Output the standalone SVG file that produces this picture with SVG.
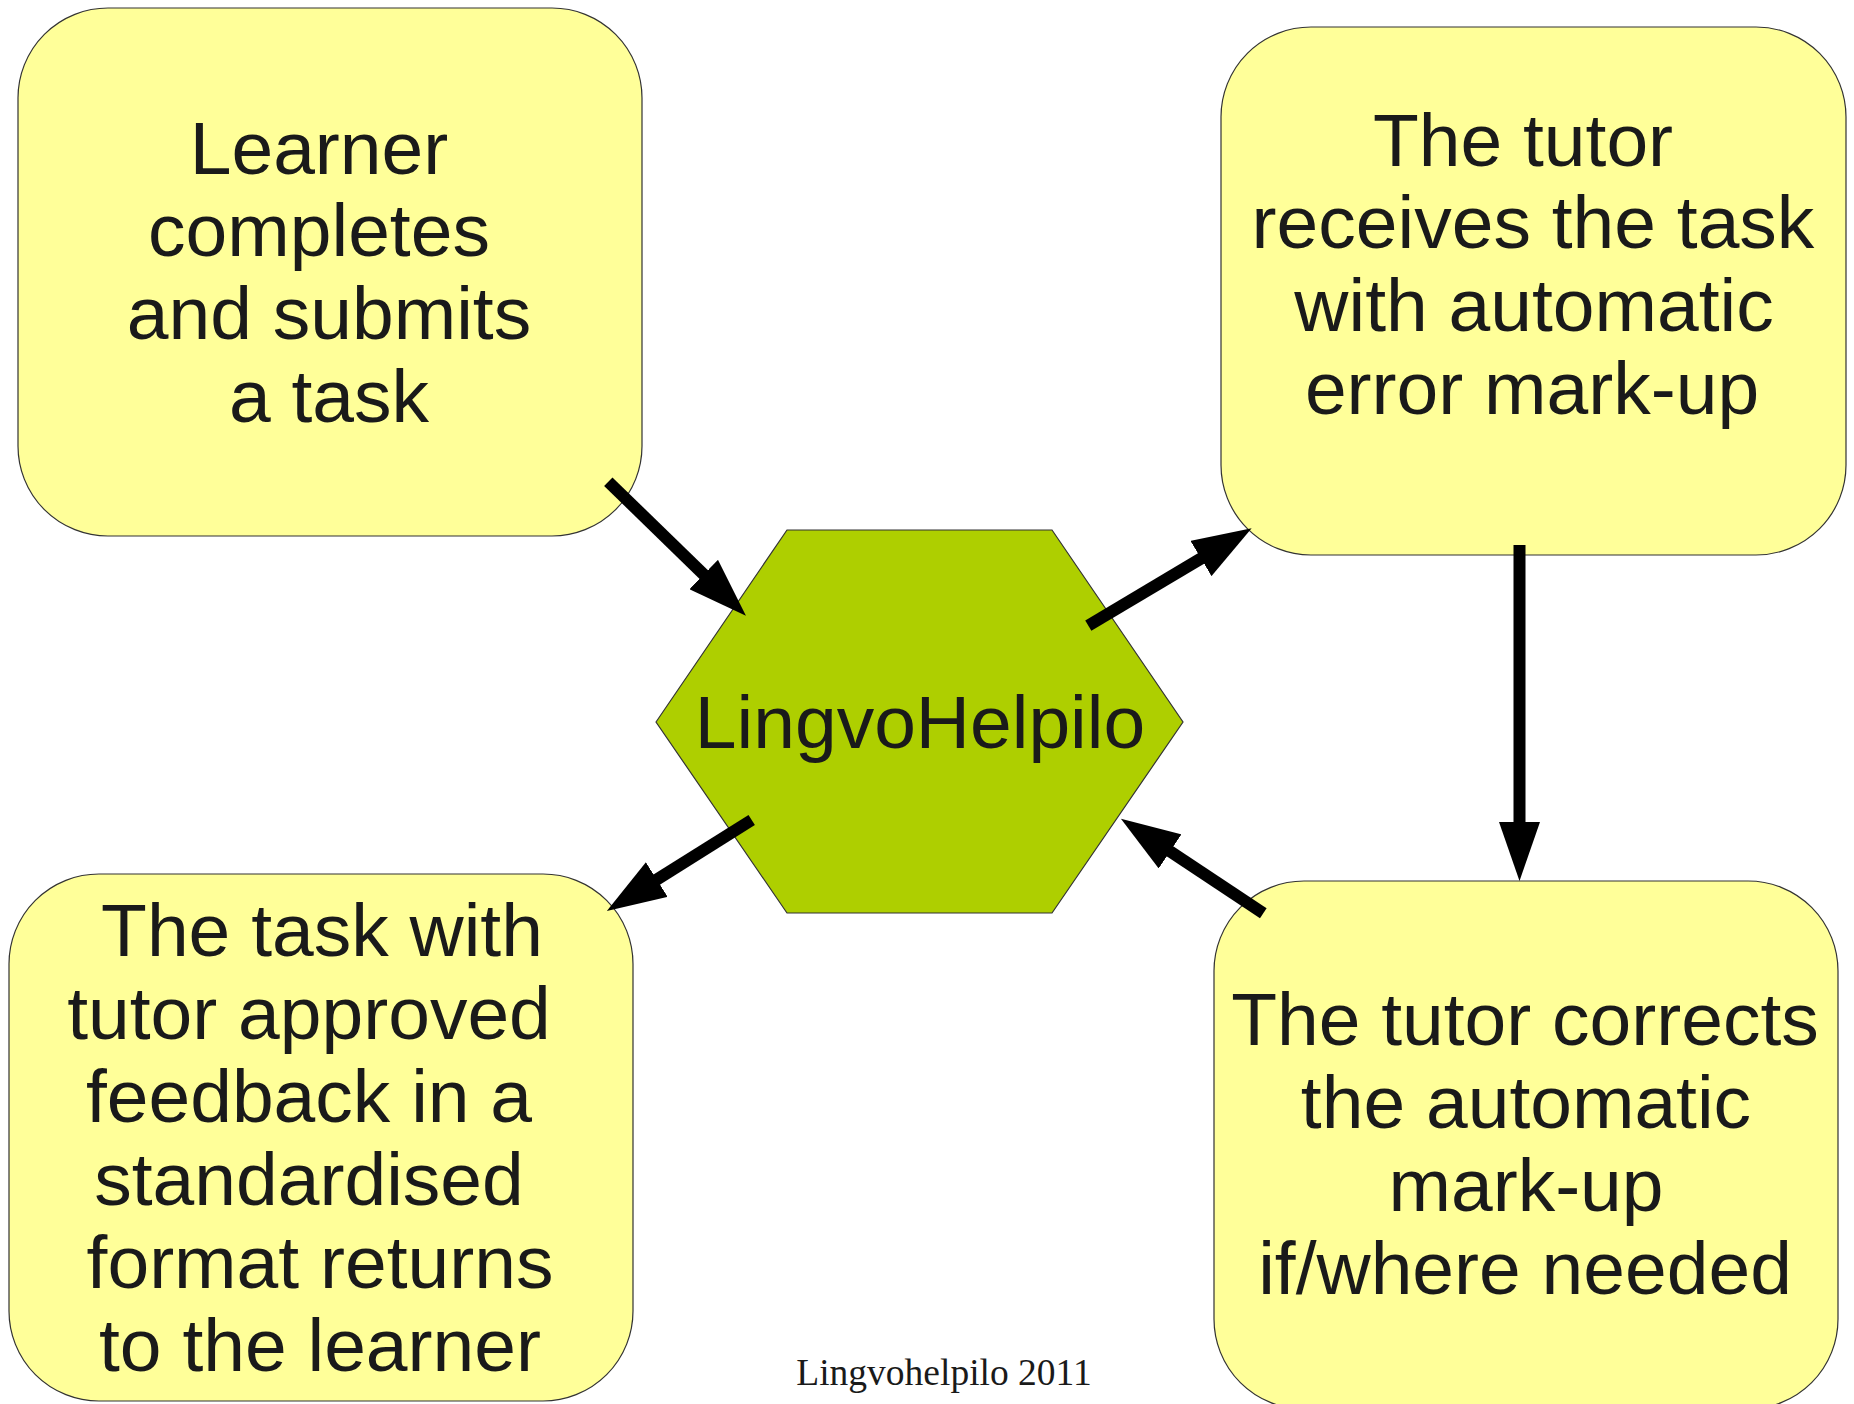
<svg xmlns="http://www.w3.org/2000/svg" width="1854" height="1404" viewBox="0 0 1854 1404">
<style>
.box{fill:#ffff99;stroke:#333333;stroke-width:1.2}
.hex{fill:#aecf00;stroke:#333333;stroke-width:1.2}
.t{font-family:"Liberation Sans",Arial,sans-serif;font-size:75px;fill:#1a1a1a;text-anchor:middle}
.conn{stroke:#000;stroke-width:12;fill:none;marker-end:url(#ah)}
.foot{font-family:"Liberation Serif","Times New Roman",serif;font-size:37.5px;fill:#1a1a1a;text-anchor:middle}
</style>
<defs>
<marker id="ah" viewBox="0 0 59 41" markerWidth="59" markerHeight="41" markerUnits="userSpaceOnUse" refX="2" refY="20.5" orient="auto">
<path d="M0,0 L59,20.5 L0,41 z" fill="#000"/>
</marker>
</defs>
<rect width="1854" height="1404" fill="#ffffff"/>
<g id="learner">
<rect class="box" x="18" y="8" width="624" height="528" rx="90" ry="90"/>
<text class="t"><tspan x="319" y="174">Learner</tspan><tspan x="319" y="256">completes</tspan><tspan x="329" y="339">and submits</tspan><tspan x="329" y="422">a task</tspan></text>
</g>
<g id="tutor-receives">
<rect class="box" x="1221" y="27" width="625" height="528" rx="90" ry="90"/>
<text class="t"><tspan x="1523" y="166">The tutor</tspan><tspan x="1533" y="248">receives the task</tspan><tspan x="1534" y="331">with automatic</tspan><tspan x="1532" y="414">error mark-up</tspan></text>
</g>
<g id="task-returns">
<rect class="box" x="9" y="874" width="624" height="527" rx="90" ry="90"/>
<text class="t"><tspan x="322" y="956">The task with</tspan><tspan x="309" y="1039">tutor approved</tspan><tspan x="309" y="1122">feedback in a</tspan><tspan x="309" y="1205">standardised</tspan><tspan x="320" y="1288">format returns</tspan><tspan x="320" y="1371">to the learner</tspan></text>
</g>
<g id="tutor-corrects">
<rect class="box" x="1214" y="881" width="624" height="528" rx="90" ry="90"/>
<text class="t"><tspan x="1525" y="1045">The tutor corrects</tspan><tspan x="1526" y="1128">the automatic</tspan><tspan x="1526" y="1211">mark-up</tspan><tspan x="1525" y="1294">if/where needed</tspan></text>
</g>
<g id="lingvohelpilo">
<polygon class="hex" points="656,722 787,530 1052,530 1183,722 1052,913 787,913"/>
<text class="t" x="920" y="748">LingvoHelpilo</text>
</g>
<g id="connectors">
<line class="conn" x1="608.3" y1="481.7" x2="705.1" y2="575.9"/>
<line class="conn" x1="1088.3" y1="625.7" x2="1202.7" y2="557.5"/>
<line class="conn" x1="1519.5" y1="545" x2="1519.5" y2="824"/>
<line class="conn" x1="1263.3" y1="913.3" x2="1168.4" y2="850.3"/>
<line class="conn" x1="751.7" y1="820" x2="655.1" y2="880.6"/>
</g>
<text class="foot" x="944" y="1385">Lingvohelpilo 2011</text>
</svg>
